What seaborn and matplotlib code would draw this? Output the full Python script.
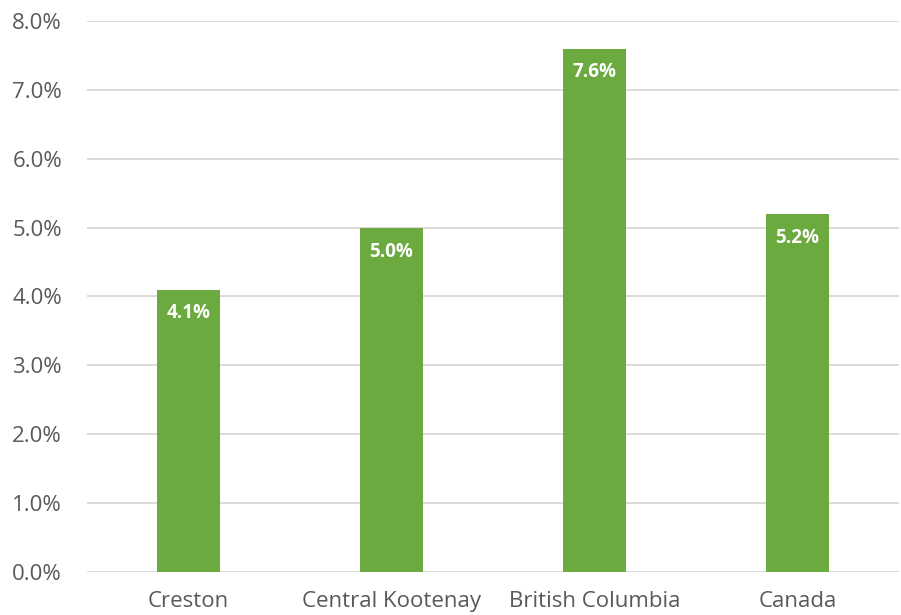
import matplotlib
matplotlib.use("Agg")
import matplotlib.pyplot as plt
import seaborn as sns
import pandas as pd
from matplotlib.ticker import FuncFormatter

regions = ["Creston", "Central Kootenay", "British Columbia", "Canada"]
rates = [4.1, 5.0, 7.6, 5.2]
tick_values = [0, 1, 2, 3, 4, 5, 6, 7, 8]

sns.set_theme(style="white")
plt.rcParams["font.family"] = ["Open Sans", "DejaVu Sans"]

df = pd.DataFrame({"region": regions, "rate": rates})

fig = plt.figure(figsize=(9.01, 6.15), dpi=100)
ax = fig.add_axes([0.0966, 0.0699, 0.9012, 0.896])

sns.barplot(data=df, x="region", y="rate", color="#6aaa3e", saturation=1,
            width=0.31, linewidth=0, ax=ax, zorder=3)

ax.set_ylim(0, 8)
ax.set_yticks(tick_values)
ax.yaxis.set_major_formatter(FuncFormatter(lambda v, _: f"{v:.1f}%"))
ax.grid(axis="y", color="#d9d3cf", linewidth=1.2, zorder=0)
ax.set_axisbelow(True)
for s in ax.spines.values():
    s.set_visible(False)
ax.tick_params(axis="both", length=0, labelsize=16, labelcolor="#595959")
ax.tick_params(axis="y", pad=18)
ax.tick_params(axis="x", pad=14)
ax.set_xlabel("")
ax.set_ylabel("")

for patch, val in zip(ax.patches, rates):
    x = patch.get_x() + patch.get_width() / 2
    ax.annotate(f"{val:.1f}%", (x, val), xytext=(0, -10), textcoords="offset points",
                ha="center", va="top", color="white", fontsize=13.5, fontweight="bold",
                zorder=4)

fig.savefig("out.png", dpi=100)
